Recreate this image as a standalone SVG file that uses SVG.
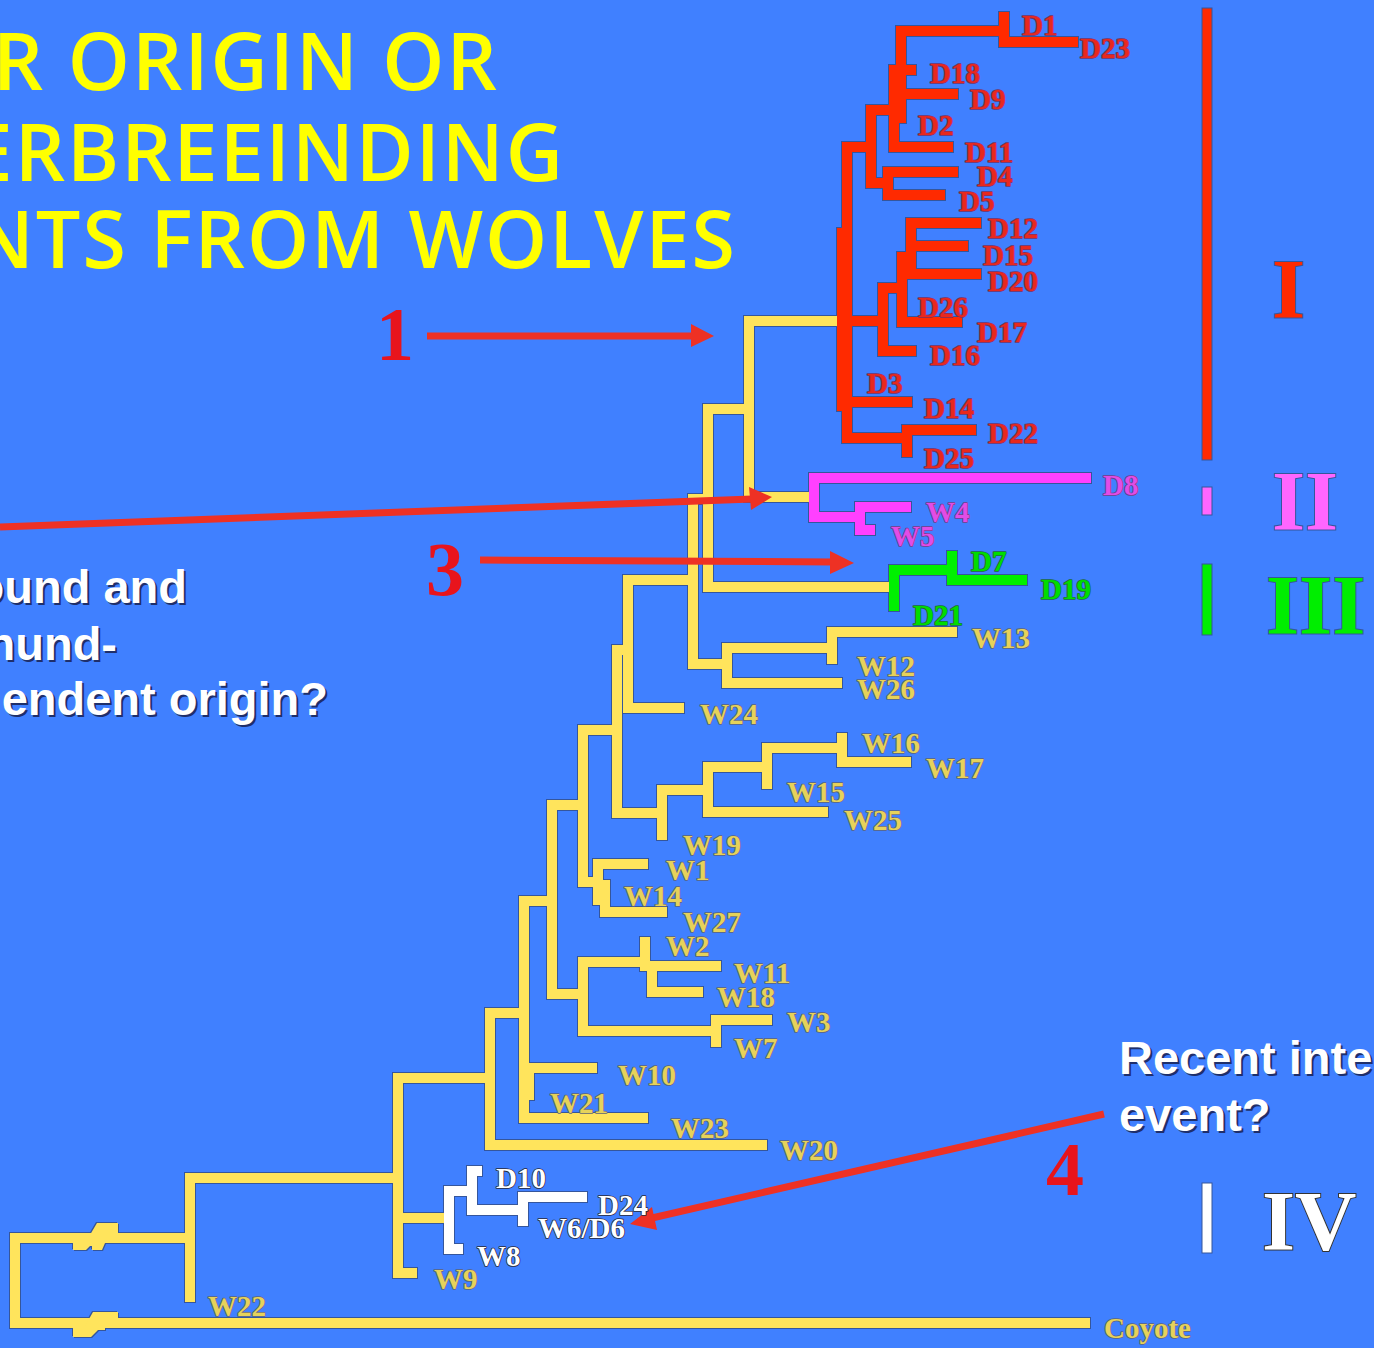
<svg xmlns="http://www.w3.org/2000/svg" width="1374" height="1348" viewBox="0 0 1374 1348">
<style>
.ol{fill:none;stroke:#35569c;stroke-width:12;stroke-linecap:square;stroke-linejoin:miter}
.br{fill:none;stroke-width:10;stroke-linecap:square;stroke-linejoin:miter}
.cy{stroke:#FFE45C}.cr{stroke:#FF2A00}.cm{stroke:#FF40FF}.cg{stroke:#00F000}.cw{stroke:#FFFFFF}
.lb{font-family:"Liberation Serif","Times New Roman",serif;font-weight:bold;font-size:29px;paint-order:stroke;stroke-width:1.6px;stroke-linejoin:round}
.lr{fill:#E8281E;stroke:#7a3060}
.ly{fill:#E6D25A;stroke:#5e6478}
.lm{fill:#E24CE6;stroke:#7a3a8a}
.lg{fill:#00DD00;stroke:#1d6a3a}
.lw{fill:#FFFFFF;stroke:#2a2a3a}
.num{font-family:"Liberation Serif","Times New Roman",serif;font-weight:bold;font-size:76px;fill:#E8141C;text-anchor:middle}
.rom{font-family:"Liberation Serif","Times New Roman",serif;font-weight:bold;font-size:85px;paint-order:stroke;stroke-width:2px;stroke:#35569c}
.ttl{font-family:"Open Sans","DejaVu Sans",sans-serif;font-weight:600;font-size:79px;letter-spacing:2px;fill:#FFFF00;text-anchor:end}
.q{font-family:"Liberation Sans",Arial,sans-serif;font-weight:bold;font-size:47px;fill:#FFFFFF}
.qs{font-family:"Liberation Sans",Arial,sans-serif;font-weight:bold;font-size:47px;fill:#14143a;opacity:0.75}
.arr{stroke:#EE3124;stroke-width:7;fill:none}
.ah{fill:#EE3124}
.brk{fill:#FFE45C}
.brko{fill:#35569c}
</style>
<defs>
<path id="pY" d="M749,321H832M749,321V497M749,497H804M708,409H749M708,409V587M708,587H884M693,499H708M693,499V664M693,664H727M727,648V683M727,683H837M727,648H832M832,632V659M832,632H952M628,580H693M628,580V708M628,708H679M617,650H628M617,650V813M617,813H662M662,790V835M662,790H708M708,767V812M708,812H823M708,767H767M767,748V784M767,748H842M842,738V762M842,762H906M583,730H617M583,730V882M583,882H598M598,864V900M598,864H643M605,885V912M605,912H662M552,805H583M552,805V994M552,994H583M583,962V1031M583,962H645M645,942V966M645,966H716M652,970V992M652,992H698M583,1031H716M716,1020V1042M716,1020H767M524,901H552M524,901V1118M524,1068H592M529,1068V1095M524,1118H643M490,1013H524M490,1013V1145M490,1145H762M398,1078H490M398,1078V1273M398,1273H412M398,1218H439M190,1178H398M190,1178V1297M15,1238H190M15,1238V1323M15,1323H1085"/>
<path id="pR" d="M901,31H1004M1004,17V42M1004,42H1073M901,31V118M901,70H911M901,94H953M894,70V147M894,147H948M871,110H894M871,110V183M871,183H888M888,172V195M888,172H953M888,195H940M847,147H871M847,147V438M842,233V406M847,321H883M883,288V351M883,351H911M883,288H902M902,257V322M902,322H957M902,257H911M911,223V274M911,223H976M911,246H963M911,274H976M847,402H907M847,438H907M907,430V452M907,430H971"/>
<path id="pM" d="M814,478V517M814,478H1086M814,517H860M860,507V529M860,507H906M860,530H870"/>
<path id="pG" d="M894,570V606M894,570H952M952,556V580M952,580H1022"/>
<path id="pW" d="M449,1191V1244M449,1249H458M449,1191H472M472,1172V1210M472,1171H477M472,1210H523M523,1197V1221M523,1197H582"/>
<path id="pB" d="M73,1236V1250H86L90,1246H92V1250H102L105,1243V1236ZM87,1240L97,1223H118V1240ZM73,1321V1337H91L98,1330H105V1321ZM85,1326L93,1312H118V1326Z"/>
</defs>
<rect x="0" y="0" width="1374" height="1348" fill="#4080FF"/>

<g id="title">
<text class="ttl" x="499" y="90">R ORIGIN OR</text>
<text class="ttl" x="565" y="181">ERBREEINDING</text>
<text class="ttl" x="737" y="268">NTS FROM WOLVES</text>
</g>

<g id="question-left">
<text class="qs" x="189" y="605" text-anchor="end">ound and</text>
<text class="q" x="187" y="603" text-anchor="end">ound and</text>
<text class="qs" x="119" y="662" text-anchor="end">nund-</text>
<text class="q" x="117" y="660" text-anchor="end">nund-</text>
<text class="qs" x="330" y="717" text-anchor="end">endent origin?</text>
<text class="q" x="328" y="715" text-anchor="end">endent origin?</text>
</g>
<g id="question-right">
<text class="qs" x="1121" y="1076">Recent inte</text>
<text class="q" x="1119" y="1074">Recent inte</text>
<text class="qs" x="1121" y="1133">event?</text>
<text class="q" x="1119" y="1131">event?</text>
</g>

<g id="connectors">
<g class="ol"><use href="#pY"/><use href="#pR"/><use href="#pM"/><use href="#pG"/><use href="#pW"/></g>
<use href="#pB" class="brko" transform="translate(-1,-1)"/>
<use href="#pB" class="brko" transform="translate(1,1)"/>
<use href="#pY" class="br cy"/>
<use href="#pR" class="br cr"/>
<use href="#pM" class="br cm"/>
<use href="#pG" class="br cg"/>
<use href="#pW" class="br cw"/>
<use href="#pB" class="brk"/>
<g id="arrows">
<line class="arr" x1="427" y1="336" x2="694" y2="336"/>
<polygon class="ah" points="691,324 714,336 691,347"/>
<line class="arr" x1="0" y1="527" x2="752" y2="499"/>
<polygon class="ah" points="749,487 772,497 751,510"/>
<line class="arr" x1="480" y1="560" x2="833" y2="562"/>
<polygon class="ah" points="830,551 854,563 830,574"/>
<line class="arr" x1="1104" y1="1114" x2="652" y2="1218"/>
<polygon class="ah" points="630,1224 652,1207 657,1230"/>
</g>
</g>

<g id="arrow-numbers">
<text class="num" x="395" y="360">1</text>
<text class="num" x="445" y="595">3</text>
<text class="num" x="1065" y="1195">4</text>
</g>

<g id="clade-bars">
<g id="clade-I"><rect x="1202" y="8" width="10" height="452" fill="#FF2A00" stroke="#35569c"/><text class="rom" x="1272" y="318" fill="#FF2A00">I</text></g>
<g id="clade-II"><rect x="1202" y="487" width="10" height="28" fill="#FF66FF" stroke="#35569c"/><text class="rom" x="1272" y="530" fill="#FF66FF">II</text></g>
<g id="clade-III"><rect x="1202" y="564" width="10" height="71" fill="#00EE00" stroke="#35569c"/><text class="rom" x="1266" y="634" fill="#00EE00">III</text></g>
<g id="clade-IV"><rect x="1202" y="1183" width="10" height="70" fill="#FFFFFF" stroke="#35569c"/><text class="rom" x="1262" y="1250" fill="#FFFFFF" style="stroke:#333">IV</text></g>
</g>

<g id="leaves">
<g id="n-D1"><text class="lb lr" x="1022" y="35">D1</text></g>
<g id="n-D23"><text class="lb lr" x="1080" y="58">D23</text></g>
<g id="n-D18"><text class="lb lr" x="930" y="83">D18</text></g>
<g id="n-D9"><text class="lb lr" x="970" y="109">D9</text></g>
<g id="n-D2"><text class="lb lr" x="918" y="135">D2</text></g>
<g id="n-D11"><text class="lb lr" x="965" y="162">D11</text></g>
<g id="n-D4"><text class="lb lr" x="977" y="186">D4</text></g>
<g id="n-D5"><text class="lb lr" x="959" y="211">D5</text></g>
<g id="n-D12"><text class="lb lr" x="988" y="238">D12</text></g>
<g id="n-D15"><text class="lb lr" x="983" y="265">D15</text></g>
<g id="n-D20"><text class="lb lr" x="988" y="291">D20</text></g>
<g id="n-D26"><text class="lb lr" x="918" y="317">D26</text></g>
<g id="n-D17"><text class="lb lr" x="977" y="342">D17</text></g>
<g id="n-D16"><text class="lb lr" x="930" y="365">D16</text></g>
<g id="n-D3"><text class="lb lr" x="867" y="393">D3</text></g>
<g id="n-D14"><text class="lb lr" x="924" y="418">D14</text></g>
<g id="n-D22"><text class="lb lr" x="988" y="443">D22</text></g>
<g id="n-D25"><text class="lb lr" x="924" y="468">D25</text></g>
<g id="n-D8"><text class="lb lm" x="1103" y="495">D8</text></g>
<g id="n-W4"><text class="lb lm" x="926" y="522">W4</text></g>
<g id="n-W5"><text class="lb lm" x="891" y="546">W5</text></g>
<g id="n-D7"><text class="lb lg" x="971" y="571">D7</text></g>
<g id="n-D19"><text class="lb lg" x="1041" y="599">D19</text></g>
<g id="n-D21"><text class="lb lg" x="913" y="625">D21</text></g>
<g id="n-W13"><text class="lb ly" x="972" y="648">W13</text></g>
<g id="n-W12"><text class="lb ly" x="857" y="676">W12</text></g>
<g id="n-W26"><text class="lb ly" x="857" y="699">W26</text></g>
<g id="n-W24"><text class="lb ly" x="700" y="724">W24</text></g>
<g id="n-W16"><text class="lb ly" x="862" y="753">W16</text></g>
<g id="n-W17"><text class="lb ly" x="926" y="778">W17</text></g>
<g id="n-W15"><text class="lb ly" x="787" y="802">W15</text></g>
<g id="n-W25"><text class="lb ly" x="844" y="830">W25</text></g>
<g id="n-W19"><text class="lb ly" x="683" y="855">W19</text></g>
<g id="n-W1"><text class="lb ly" x="666" y="880">W1</text></g>
<g id="n-W14"><text class="lb ly" x="624" y="906">W14</text></g>
<g id="n-W27"><text class="lb ly" x="683" y="932">W27</text></g>
<g id="n-W2"><text class="lb ly" x="666" y="956">W2</text></g>
<g id="n-W11"><text class="lb ly" x="734" y="983">W11</text></g>
<g id="n-W18"><text class="lb ly" x="717" y="1007">W18</text></g>
<g id="n-W3"><text class="lb ly" x="787" y="1032">W3</text></g>
<g id="n-W7"><text class="lb ly" x="734" y="1058">W7</text></g>
<g id="n-W10"><text class="lb ly" x="618" y="1085">W10</text></g>
<g id="n-W21"><text class="lb ly" x="550" y="1113">W21</text></g>
<g id="n-W23"><text class="lb ly" x="671" y="1138">W23</text></g>
<g id="n-W20"><text class="lb ly" x="780" y="1160">W20</text></g>
<g id="n-W9"><text class="lb ly" x="434" y="1289">W9</text></g>
<g id="n-W22"><text class="lb ly" x="208" y="1316">W22</text></g>
<g id="n-Coyote"><text class="lb ly" x="1104" y="1338">Coyote</text></g>
<g id="n-D10"><text class="lb lw" x="496" y="1188">D10</text></g>
<g id="n-D24"><text class="lb lw" x="598" y="1215">D24</text></g>
<g id="n-W6D6"><text class="lb lw" x="538" y="1238">W6/D6</text></g>
<g id="n-W8"><text class="lb lw" x="477" y="1266">W8</text></g>
</g>
</svg>
